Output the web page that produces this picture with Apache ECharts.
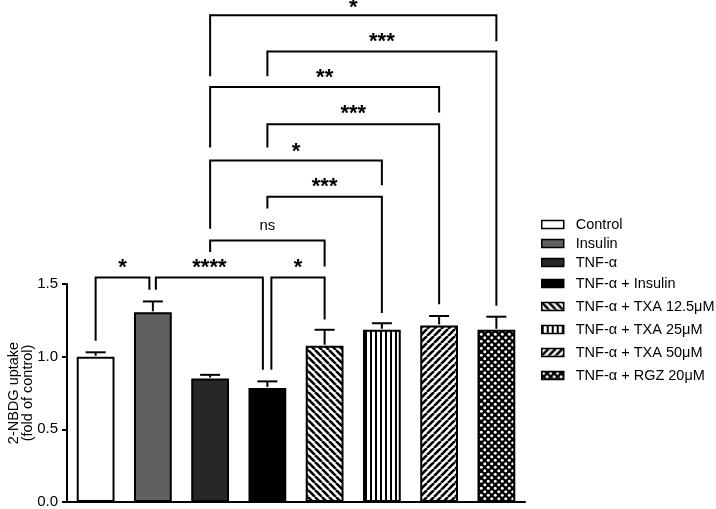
<!DOCTYPE html>
<html>
<head>
<meta charset="utf-8">
<script src="https://cdn.jsdelivr.net/npm/echarts@6/dist/echarts.min.js"></script>
<style>
html,body{margin:0;padding:0;background:#fff;}
#chart{width:716px;height:509px;}
</style>
</head>
<body>
<div id="chart"></div>
<script>
// ---- data ----
const categories = ['Control','Insulin','TNF-α','TNF-α + Insulin','TNF-α + TXA 12.5μM','TNF-α + TXA 25μM','TNF-α + TXA 50μM','TNF-α + RGZ 20μM'];
const means = [1.00, 1.305, 0.85, 0.785, 1.075, 1.185, 1.215, 1.185];
const sems  = [0.03, 0.075, 0.025, 0.045, 0.11, 0.045, 0.065, 0.09];
const yTicks = [0.0, 0.5, 1.0, 1.5];

// significance brackets (category indices, value-axis levels)
const bracketFrom     = [2, 3, 2, 3, 2, 3, 2, 3, 1, 0];
const bracketTo       = [7, 7, 6, 6, 5, 5, 4, 4, 3, 1];
const bracketLevel    = [3.35, 3.10, 2.855, 2.60, 2.35, 2.10, 1.80, 1.545, 1.545, 1.545];
const bracketLeftEnd  = [2.93, 2.93, 2.44, 2.44, 1.88, 2.02, 1.72, 0.91, 1.46, 1.11];
const bracketRightEnd = [3.17, 1.35, 2.68, 1.36, 2.18, 1.30, 1.62, 1.255, 0.91, 1.46];
const bracketLabels   = ['*', '***', '**', '***', '*', '***', 'ns', '*', '****', '*'];

// ---- styles ----
const leftShift  = [0, 0, 0, 0, 0, 0, 0, 4, 3, 0];
const rightShift = [0, 0, 0, 0, 0, 0, 0, 0, -4.5, -3.5];
const labelLift  = [7, 10, 9, 10, 9, 10, 15, 10, 10, 10];
const FONT = '"Liberation Sans", Arial, Helvetica, sans-serif';

function tile(w, h, draw) {
  const c = document.createElement('canvas');
  c.width = w; c.height = h;
  const ctx = c.getContext('2d');
  ctx.fillStyle = '#fff'; ctx.fillRect(0, 0, w, h);
  draw(ctx, w, h);
  return { image: c, repeat: 'repeat' };
}
const backStripe = tile(7, 7, (ctx, s) => {
  ctx.strokeStyle = '#000'; ctx.lineWidth = 2.6;
  for (let x0 = -s; x0 <= s; x0 += s) { ctx.beginPath(); ctx.moveTo(x0, 0); ctx.lineTo(x0 + s, s); ctx.stroke(); }
});
const fwdStripe = tile(7, 7, (ctx, s) => {
  ctx.strokeStyle = '#000'; ctx.lineWidth = 2.6;
  for (let x0 = -s; x0 <= s; x0 += s) { ctx.beginPath(); ctx.moveTo(x0, s); ctx.lineTo(x0 + s, 0); ctx.stroke(); }
});
const vertStripe = tile(5, 5, (ctx) => { ctx.fillStyle = '#000'; ctx.fillRect(0, 0, 2, 5); });
const dots = tile(7, 7, (ctx) => {
  ctx.fillStyle = '#000'; ctx.fillRect(0, 0, 7, 7);
  ctx.fillStyle = '#fff';
  [[1.75, 1.75], [5.25, 5.25]].forEach(p => { ctx.beginPath(); ctx.arc(p[0], p[1], 1.5, 0, Math.PI * 2); ctx.fill(); });
});
const fills = ['#ffffff', '#606060', '#272727', '#000000', backStripe, vertStripe, fwdStripe, dots];

const barSeries = categories.map((name, i) => ({
  name: name,
  type: 'bar',
  stack: 'all',
  barWidth: '66%',
  data: categories.map((c, j) => j === i ? means[i] : '-'),
  itemStyle: { color: fills[i], borderColor: '#000', borderWidth: 2 },
  emphasis: { disabled: true },
  animation: false
}));

const errSeries = {
  type: 'custom',
  clip: false,
  animation: false,
  z: 5,
  data: means.map((m, i) => [i, m, m + sems[i]]),
  renderItem: function (params, api) {
    const p0 = api.coord([api.value(0), api.value(1)]);
    const p1 = api.coord([api.value(0), api.value(2)]);
    const st = { stroke: '#000', lineWidth: 2 };
    return { type: 'group', children: [
      { type: 'line', shape: { x1: p0[0], y1: p0[1] - 1, x2: p1[0], y2: p1[1] }, style: st },
      { type: 'line', shape: { x1: p1[0] - 10, y1: p1[1], x2: p1[0] + 10, y2: p1[1] }, style: st }
    ]};
  }
};

const bracketSeries = {
  type: 'custom',
  clip: false,
  animation: false,
  z: 6,
  data: bracketFrom.map((f, i) => [f, bracketTo[i], bracketLevel[i], bracketLeftEnd[i], bracketRightEnd[i], i]),
  renderItem: function (params, api) {
    const i = api.value(5);
    const a = api.coord([api.value(0), api.value(2)]);
    const b = api.coord([api.value(1), api.value(2)]);
    const aEnd = api.coord([api.value(0), api.value(3)]);
    const bEnd = api.coord([api.value(1), api.value(4)]);
    const xl = a[0] + leftShift[i], xr = b[0] + rightShift[i], y = a[1];
    const lab = bracketLabels[i];
    const isNs = lab === 'ns';
    return { type: 'group', children: [
      { type: 'polyline', shape: { points: [[xl, aEnd[1]], [xl, y], [xr, y], [xr, bEnd[1]]] },
        style: { stroke: '#000', lineWidth: 2, fill: null, lineJoin: 'miter' } },
      { type: 'text', x: (xl + xr) / 2, y: y - labelLift[i],
        style: { text: lab, align: 'center', verticalAlign: 'middle', fill: '#000',
          font: isNs ? '15px ' + FONT : 'bold 22px ' + FONT } }
    ]};
  }
};

const legendCommon = {
  orient: 'vertical',
  left: 541,
  padding: 0,
  itemWidth: 22,
  itemHeight: 8,
  selectedMode: false,
  icon: 'rect',
  itemStyle: { borderWidth: 1.5, borderColor: '#000' },
  textStyle: { fontSize: 14.5, color: '#000', fontFamily: FONT, padding: [0, 0, 0, 7] }
};

const chart = echarts.init(document.getElementById('chart'), null, { renderer: 'canvas' });
chart.setOption({
  animation: false,
  backgroundColor: '#fff',
  grid: { left: 67, right: 191, top: 284, bottom: 7, containLabel: false, outerBoundsMode: 'none' },
  legend: [
    Object.assign({}, legendCommon, { top: 217, itemGap: 4, data: categories.slice(0, 3) }),
    Object.assign({}, legendCommon, { top: 276, itemGap: 8, data: categories.slice(3) })
  ],
  xAxis: {
    type: 'category',
    data: categories,
    axisLine: { lineStyle: { color: '#000', width: 2 } },
    axisTick: { show: false },
    axisLabel: { show: false },
    splitLine: { show: false }
  },
  yAxis: {
    type: 'value',
    min: 0, max: 1.5, interval: 0.5,
    name: '2-NBDG uptake\n(fold of control)',
    nameLocation: 'middle',
    nameGap: 32,
    nameMoveOverlap: false,
    nameTextStyle: { fontSize: 14.5, color: '#000', fontFamily: FONT, lineHeight: 14 },
    axisLine: { show: true, lineStyle: { color: '#000', width: 2 } },
    axisTick: { show: true, length: 5, lineStyle: { color: '#000', width: 2 } },
    axisLabel: { color: '#000', fontSize: 15, margin: 9, fontFamily: FONT,
      formatter: v => (yTicks.indexOf(v) >= 0 ? v.toFixed(1) : '') },
    splitLine: { show: false }
  },
  series: barSeries.concat([errSeries, bracketSeries])
});
</script>
</body>
</html>
